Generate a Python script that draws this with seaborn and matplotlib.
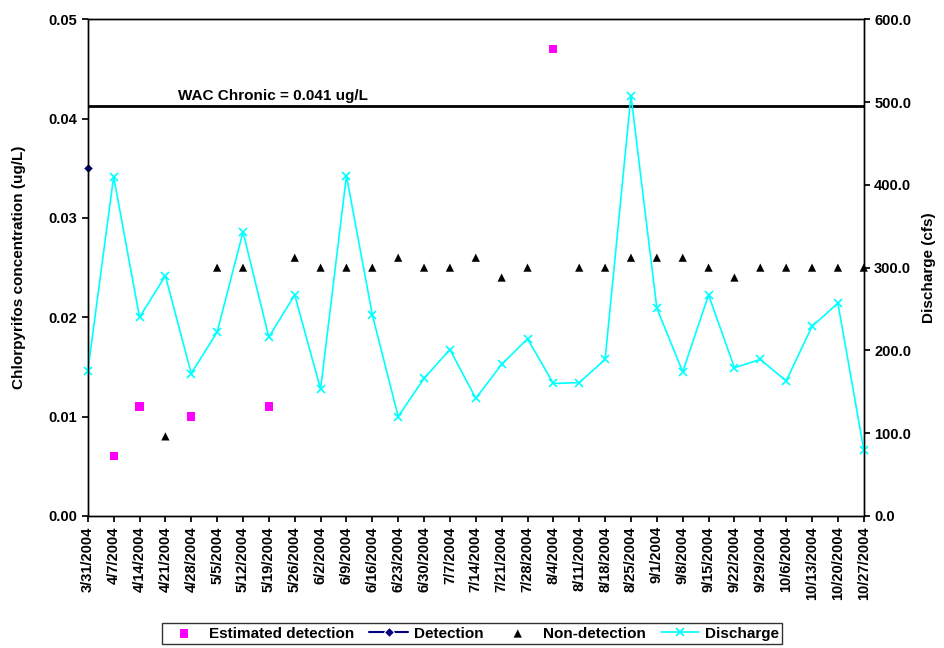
import matplotlib
matplotlib.use("Agg")
import matplotlib.pyplot as plt
import seaborn as sns
import numpy as np
import pandas as pd

sns.set_theme(style="white")
plt.rcParams['font.family'] = ['Liberation Sans', 'DejaVu Sans']
plt.rcParams['font.weight'] = 'bold'
plt.rcParams['text.color'] = 'black'
plt.rcParams['axes.labelcolor'] = 'black'
plt.rcParams['xtick.color'] = 'black'
plt.rcParams['ytick.color'] = 'black'
plt.rcParams['axes.labelweight'] = 'bold'

dates = ["3/31/2004","4/7/2004","4/14/2004","4/21/2004","4/28/2004","5/5/2004","5/12/2004",
         "5/19/2004","5/26/2004","6/2/2004","6/9/2004","6/16/2004","6/23/2004","6/30/2004",
         "7/7/2004","7/14/2004","7/21/2004","7/28/2004","8/4/2004","8/11/2004","8/18/2004",
         "8/25/2004","9/1/2004","9/8/2004","9/15/2004","9/22/2004","9/29/2004","10/6/2004",
         "10/13/2004","10/20/2004","10/27/2004"]
discharge = [175,410,240,290,172,222,343,216,267,153,411,243,120,166,201,142,183,214,160,161,
             189,508,251,174,267,179,189,163,229,257,80]
est_dates = ["4/7/2004","4/14/2004","4/28/2004","5/19/2004","8/4/2004"]
est_vals = [0.006,0.011,0.010,0.011,0.047]
det_dates = ["3/31/2004"]
det_vals = [0.035]
nd_dates = ["4/21/2004","5/5/2004","5/12/2004","5/26/2004","6/2/2004","6/9/2004","6/16/2004",
            "6/23/2004","6/30/2004","7/7/2004","7/14/2004","7/21/2004","7/28/2004","8/11/2004",
            "8/18/2004","8/25/2004","9/1/2004","9/8/2004","9/15/2004","9/22/2004","9/29/2004",
            "10/6/2004","10/13/2004","10/20/2004","10/27/2004"]
nd_vals = [0.008,0.025,0.025,0.026,0.025,0.025,0.025,0.026,0.025,0.025,0.026,0.024,0.025,0.025,
           0.025,0.026,0.026,0.026,0.025,0.024,0.025,0.025,0.025,0.025,0.025]
wac = 0.0413
wac_label = "WAC Chronic = 0.041 ug/L"

idx = {d: i for i, d in enumerate(dates)}
fig = plt.figure(figsize=(9.44, 6.48), dpi=100)
ax = fig.add_axes([0.093, 0.204, 0.822, 0.766])
ax2 = ax.twinx()

sns.scatterplot(x=[idx[d] for d in est_dates], y=est_vals, ax=ax, color="#FF00FF", marker="s",
                s=35, edgecolor="none", label="Estimated detection", legend=False, clip_on=False)
sns.lineplot(x=[idx[d] for d in det_dates], y=det_vals, ax=ax, color="#000080", marker="D",
             markersize=5, label="Detection", legend=False, clip_on=False)
sns.scatterplot(x=[idx[d] for d in nd_dates], y=nd_vals, ax=ax, color="black", marker="^",
                s=35, edgecolor="none", label="Non-detection", legend=False, clip_on=False)
ax.axhline(wac, color="black", lw=2)
ax.text(3.5, wac + 0.0003, wac_label, fontsize=11, fontweight="bold", va="bottom")

sns.lineplot(x=list(range(len(dates))), y=discharge, ax=ax2, color="#00FFFF", marker="x",
             markersize=6, markeredgewidth=1.2, mec="#00FFFF", lw=1.2, label="Discharge",
             legend=False, clip_on=False)

ax.set_xlim(0, len(dates) - 1)
ax.set_ylim(0, 0.05)
ax.set_yticks(np.arange(0, 0.051, 0.01))
ax.set_yticklabels([f"{v:.2f}" for v in np.arange(0, 0.051, 0.01)], fontweight="bold")
ax2.set_ylim(0, 600)
ax2.set_yticks(range(0, 601, 100))
ax2.set_yticklabels([f"{v:.1f}" for v in range(0, 601, 100)], fontweight="bold")
ax.set_xticks(range(len(dates)))
ax.set_xticklabels(dates, rotation=90, fontweight="bold")
for a in (ax, ax2):
    a.tick_params(labelsize=10.5, length=4, direction="out", colors="black")
    for s in a.spines.values():
        s.set_color("black"); s.set_linewidth(1)
ax.tick_params(axis="both", left=True, bottom=True)
ax2.tick_params(right=True)
ax.set_ylabel("Chlorpyrifos concentration (ug/L)", fontsize=11, fontweight="bold", color="black", labelpad=16)
ax2.set_ylabel("Discharge (cfs)", fontsize=11, fontweight="bold", color="black", labelpad=8)
ax.set_xlabel("")

h1, l1 = ax.get_legend_handles_labels()
h2, l2 = ax2.get_legend_handles_labels()
leg = fig.legend(h1 + h2, l1 + l2, loc="lower center", bbox_to_anchor=(0.5, -0.005), ncol=4,
                 fontsize=11, frameon=True, fancybox=False, edgecolor="black",
                 handlelength=2.5, columnspacing=1.0, handletextpad=0.4, borderpad=0.2)
for t in leg.get_texts():
    t.set_color("black")
fig.savefig("out.png", dpi=100)
